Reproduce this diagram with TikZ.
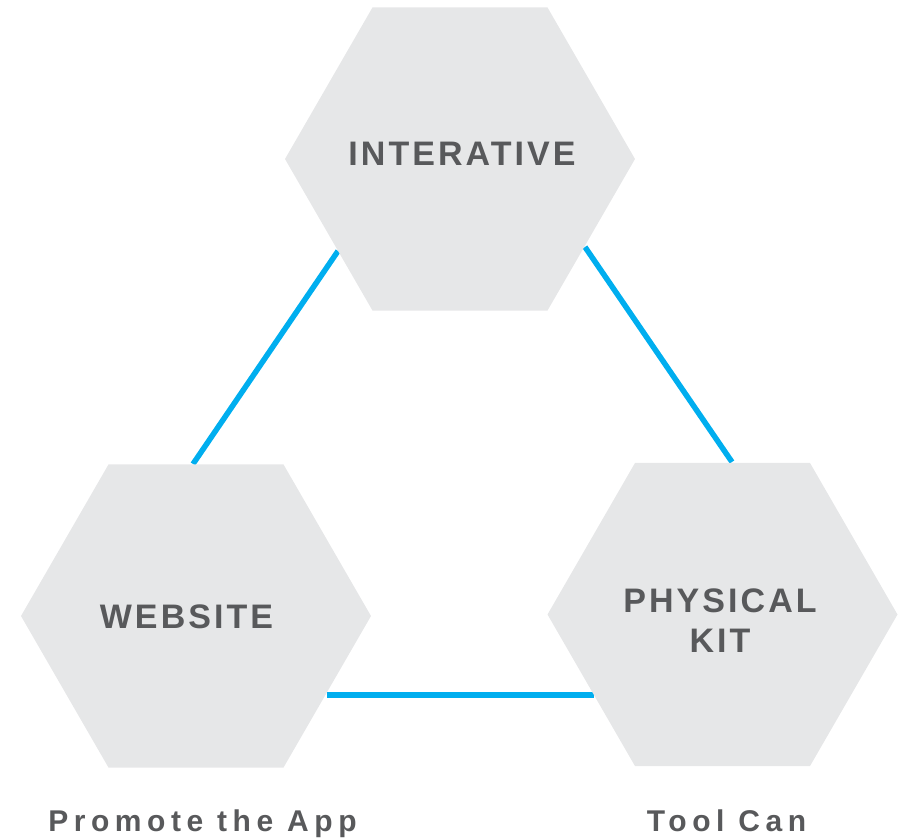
\documentclass[tikz,border=0pt]{standalone}
\usepackage{fontspec}
\setmainfont{Liberation Sans}
\newfontfamily\hexfont[LetterSpace=9]{Liberation Sans}
\newfontfamily\capfont[LetterSpace=18.5]{Liberation Sans}
\usetikzlibrary{shapes.geometric,positioning}
\definecolor{hexgray}{RGB}{230,231,232}
\definecolor{linkblue}{RGB}{0,174,239}
\definecolor{textgray}{RGB}{88,89,91}
\tikzset{hexagon/.style={regular polygon,regular polygon sides=6,fill=hexgray,minimum size=350pt,inner sep=0pt,outer sep=0pt}}
\tikzset{hexlabel/.style={text=textgray,font=\hexfont\bfseries\fontsize{34}{40}\selectfont,align=center,anchor=base,inner sep=0pt}}
\tikzset{caption/.style={text=textgray,font=\capfont\bfseries\fontsize{30}{36}\selectfont,anchor=base,inner sep=0pt}}
\tikzset{link/.style={draw=linkblue,line width=5.5pt}}

\begin{document}
\begin{tikzpicture}[x=1pt,y=-1pt]
\useasboundingbox (0,0) rectangle (898,840);
% triangle behind the hexagons
\coordinate (tl) at (338,251);
\coordinate (wl) at (193,464);
\coordinate (tr) at (585,247);
\coordinate (kr) at (732,462);
\coordinate (wb) at (327,695);
\coordinate (kb) at (594,695);
\draw[link] (tl) -- (wl);
\draw[link] (tr) -- (kr);
\draw[link] (wb) -- (kb);
% hexagons
\node[hexagon] (interative) at (460,159) {};
\node[hexagon] (website) at (196,616) {};
\node[hexagon] (kit) at (722.5,614.5) {};
\node[hexlabel] (interative-text) at (462,166) {INTERATIVE};
\node[hexlabel] (website-text) at (186.5,628) {WEBSITE};
\node[hexlabel] (kit-text) at (720,652) {PHYSICAL\\KIT};
% captions
\node[caption] (website-cap) at (202.5,831) {Promote the App};
\node[caption] (kit-cap) at (726.5,831) {Tool Can};
\end{tikzpicture}
\end{document}
